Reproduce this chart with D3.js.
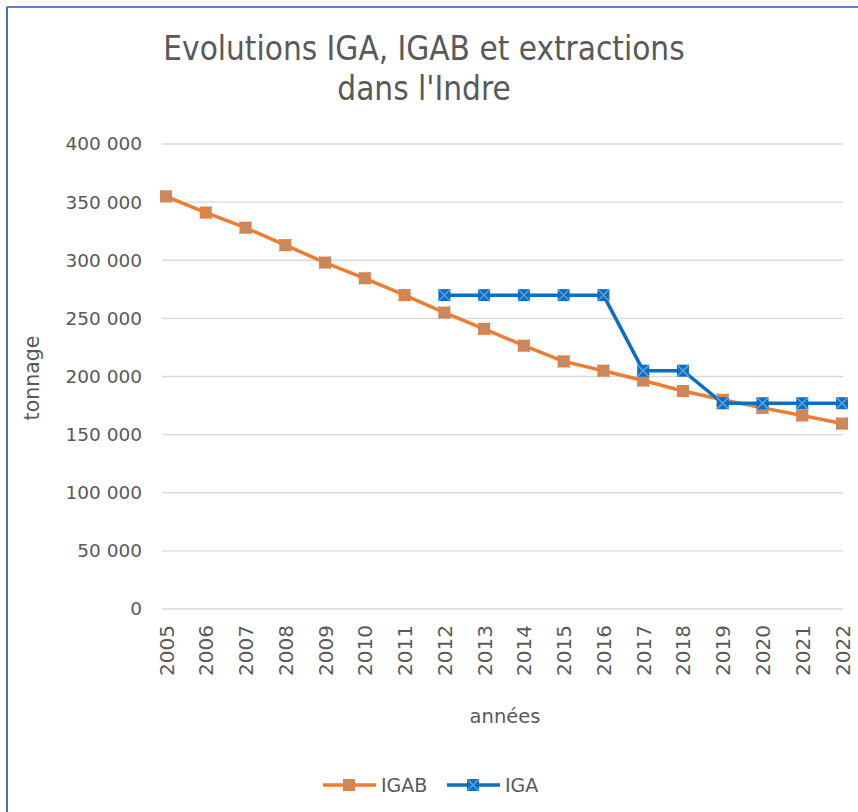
<!DOCTYPE html>
<html lang="fr">
<head>
<meta charset="UTF-8">
<title>Evolutions IGA, IGAB et extractions dans l'Indre</title>
<script src="https://d3js.org/d3.v7.min.js"></script>
<style>
    body { margin: 0; padding: 0; background: #fff; }
    svg { display: block; font-family: "DejaVu Sans", Verdana, sans-serif; }
    .grid line { stroke: #d9d9d9; stroke-width: 1.3; }
    .lbl { fill: #595959; }
</style>
</head>
<body>
<div id="chart"></div>
<script>
    const years = ["2005","2006","2007","2008","2009","2010","2011","2012","2013",
                   "2014","2015","2016","2017","2018","2019","2020","2021","2022"];
    const igab = [355000, 341000, 328000, 313000, 298000, 284500, 270000, 255000, 241000,
                  226500, 213000, 205000, 196500, 187500, 180000, 173000, 166500, 159500];
    // IGA only starts in 2012
    const iga = [null, null, null, null, null, null, null, 270000, 270000,
                 270000, 270000, 270000, 205000, 205000, 177000, 177000, 177000, 177000];
    const yTicks = [0, 50000, 100000, 150000, 200000, 250000, 300000, 350000, 400000];

    const series = [
        {name: "IGAB", values: igab, color: "#ed7d31", cross: "#8a9bb5"},
        {name: "IGA", values: iga, color: "#0a6fc2", cross: "#6aa6dc"}
    ];

    const W = 858, H = 812;
    const svg = d3.select("#chart").append("svg")
        .attr("width", W).attr("height", H);

    // frame (only top and left edges are visible)
    svg.append("line").attr("x1", 7).attr("x2", W).attr("y1", 7).attr("y2", 7)
        .attr("stroke", "#6283b8").attr("stroke-width", 2);
    svg.append("line").attr("x1", 7).attr("x2", 7).attr("y1", 7).attr("y2", H)
        .attr("stroke", "#4a72b4").attr("stroke-width", 2);

    const x = d3.scalePoint().domain(years).range([166, 842]);
    const y = d3.scaleLinear().domain([0, 400000]).range([609, 144]);
    const fmt = v => d3.format(",")(v).replace(/,/g, " ");

    // gridlines
    svg.append("g").attr("class", "grid")
        .selectAll("line").data(yTicks).join("line")
        .attr("x1", 162).attr("x2", 843)
        .attr("y1", d => y(d)).attr("y2", d => y(d));

    // y axis labels
    const gy = svg.append("g").attr("transform", "translate(162,0)")
        .call(d3.axisLeft(y).tickValues(yTicks).tickFormat(fmt).tickSize(0).tickPadding(20));
    gy.select(".domain").remove();
    gy.selectAll("text").attr("class", "lbl").attr("fill", null)
        .style("font-size", "18.5px").style("font-family", "DejaVu Sans, sans-serif");

    // x axis labels (rotated)
    const gx = svg.append("g").attr("transform", "translate(0,609)")
        .call(d3.axisBottom(x).tickSize(0).tickPadding(0));
    gx.select(".domain").remove();
    gx.selectAll("text").attr("class", "lbl").attr("fill", null)
        .style("font-size", "20px").style("font-family", "DejaVu Sans, sans-serif")
        .attr("text-anchor", "end")
        .attr("dy", "0.35em").attr("y", 0)
        .attr("transform", "translate(0,16) rotate(-90)");

    // title
    const title = svg.append("text").attr("class", "lbl")
        .attr("text-anchor", "middle")
        .style("font-family", "'Liberation Sans Narrow', 'DejaVu Sans Condensed', sans-serif")
        .style("font-size", "33px");
    title.append("tspan").attr("x", 424).attr("y", 60).text("Evolutions IGA, IGAB et extractions");
    title.append("tspan").attr("x", 424).attr("y", 100).text("dans l'Indre");

    // axis titles
    svg.append("text").attr("class", "lbl")
        .attr("transform", "translate(39,378) rotate(-90)")
        .attr("text-anchor", "middle").style("font-size", "20.5px")
        .text("tonnage");
    svg.append("text").attr("class", "lbl")
        .attr("x", 505).attr("y", 723)
        .attr("text-anchor", "middle").style("font-size", "19.5px")
        .text("années");

    const line = d3.line()
        .defined(d => d != null)
        .x((d, i) => x(years[i]))
        .y(d => y(d));

    function marker(g, cx, cy, s) {
        const m = 6;
        g.append("rect").attr("x", cx - m).attr("y", cy - m)
            .attr("width", 2 * m).attr("height", 2 * m).attr("fill", s.color);
        g.append("path")
            .attr("d", `M${cx - m},${cy - m}L${cx + m},${cy + m}M${cx + m},${cy - m}L${cx - m},${cy + m}`)
            .attr("stroke", s.cross).attr("stroke-width", 1.3);
    }

    series.forEach(s => {
        svg.append("path").datum(s.values)
            .attr("fill", "none").attr("stroke", s.color)
            .attr("stroke-width", 3.5).attr("stroke-linejoin", "round")
            .attr("d", line);
        const g = svg.append("g");
        s.values.forEach((v, i) => {
            if (v != null) marker(g, x(years[i]), y(v), s);
        });
    });

    // legend
    const legX = [323, 447];
    series.forEach((s, i) => {
        const g = svg.append("g");
        const x0 = legX[i];
        g.append("line").attr("x1", x0).attr("x2", x0 + 53)
            .attr("y1", 785).attr("y2", 785)
            .attr("stroke", s.color).attr("stroke-width", 3.5);
        marker(g, x0 + 26, 785, s);
        g.append("text").attr("class", "lbl")
            .attr("x", x0 + 58).attr("y", 785).attr("dy", "0.35em")
            .style("font-size", "19px").text(s.name);
    });
</script>
</body>
</html>
